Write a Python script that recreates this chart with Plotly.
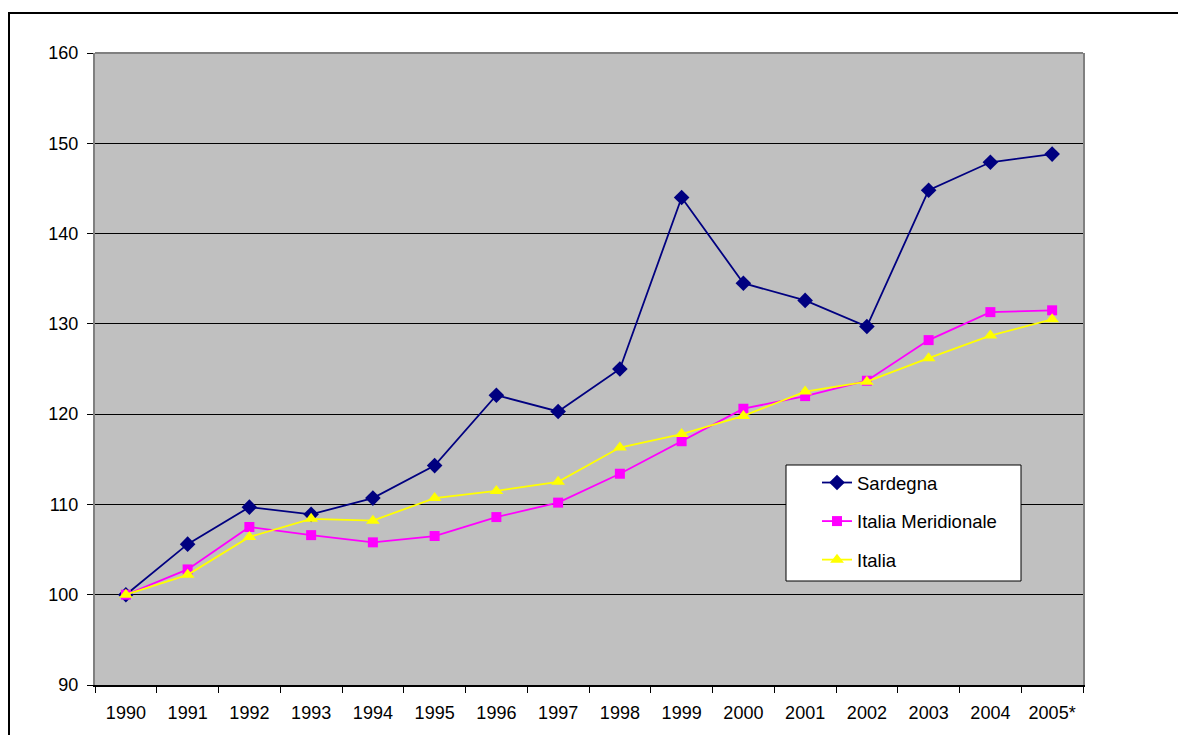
import plotly.graph_objects as go

years = ["1990", "1991", "1992", "1993", "1994", "1995", "1996", "1997",
         "1998", "1999", "2000", "2001", "2002", "2003", "2004", "2005*"]
sardegna = [100.0, 105.6, 109.7, 108.9, 110.7, 114.3, 122.1, 120.3,
            125.0, 144.0, 134.5, 132.6, 129.7, 144.8, 147.9, 148.8]
meridionale = [100.0, 102.8, 107.5, 106.6, 105.8, 106.5, 108.6, 110.2,
               113.4, 117.0, 120.6, 122.0, 123.7, 128.2, 131.3, 131.5]
italia = [100.0, 102.2, 106.4, 108.4, 108.2, 110.7, 111.5, 112.5,
          116.3, 117.8, 119.8, 122.5, 123.6, 126.2, 128.7, 130.5]
y_ticks = [90, 100, 110, 120, 130, 140, 150, 160]

FONT = "Liberation Sans, Arial, sans-serif"

fig = go.Figure()
fig.add_trace(go.Scatter(x=years, y=sardegna, name="Sardegna", mode="lines+markers",
                         line=dict(color="#000080", width=1.8),
                         marker=dict(symbol="diamond", size=12, color="#000080"),
                         legendgroup="a"))
fig.add_trace(go.Scatter(x=years, y=meridionale, name="Italia Meridionale", mode="lines+markers",
                         line=dict(color="#FF00FF", width=1.8),
                         marker=dict(symbol="square", size=10, color="#FF00FF"),
                         legendgroup="b"))
fig.add_trace(go.Scatter(x=years, y=italia, name="Italia", mode="lines+markers",
                         line=dict(color="#FFFF00", width=1.8),
                         marker=dict(symbol="triangle-up", size=12, color="#FFFF00"),
                         legendgroup="c"))

# page body has an 8px margin; work in screenshot coordinates and shift
OFF = 8
W, H = 1186 - OFF, 735 - OFF
X0, X1, Y0, Y1 = 95, 1083, 53, 685  # plot area in screenshot px
L, R, T, B = X0 - OFF, W - (X1 - OFF), Y0 - OFF, H - (Y1 - OFF)
pw, ph = X1 - X0, Y1 - Y0

def px(x):
    return (x - X0) / pw

def py(y):
    return 1 - (y - Y0) / ph

fig.update_layout(
    width=W, height=H,
    margin=dict(l=L, r=R, t=T, b=B),
    paper_bgcolor="white",
    plot_bgcolor="#C0C0C0",
    font=dict(family=FONT, size=18, color="black"),
    showlegend=True,
    legend=dict(x=px(817), y=py(464), xanchor="left", yanchor="top",
                bgcolor="rgba(0,0,0,0)", borderwidth=0,
                font=dict(family=FONT, size=18.5, color="black"),
                traceorder="grouped", tracegroupgap=11.5),
    xaxis=dict(type="category", categoryorder="array", categoryarray=years,
               range=[-0.5, len(years) - 0.5],
               showgrid=False, showline=True, linecolor="black", linewidth=1.5,
               ticks="outside", tickson="boundaries", ticklen=6, tickcolor="black",
               tickfont=dict(family=FONT, size=18), ticklabelstandoff=11,
               zeroline=False, fixedrange=True),
    yaxis=dict(range=[90, 160], tickvals=y_ticks, showgrid=True, gridcolor="black",
               gridwidth=1, showline=True, linecolor="#808080", linewidth=2,
               mirror=True, ticks="outside", ticklen=6, tickcolor="black",
               tickfont=dict(family=FONT, size=18), ticklabelstandoff=5,
               zeroline=False, fixedrange=True),
    shapes=[
        dict(type="line", xref="paper", yref="paper", x0=0, x1=1, y0=1, y1=1,
             line=dict(color="#808080", width=2)),
        dict(type="rect", xref="paper", yref="paper",
             x0=px(786), x1=px(1021), y0=py(581), y1=py(465),
             fillcolor="white", line=dict(color="black", width=1), layer="above"),
        dict(type="rect", xref="paper", yref="paper",
             x0=px(OFF + 1), x1=px(1250), y0=py(800), y1=py(13),
             fillcolor="rgba(0,0,0,0)", line=dict(color="black", width=2)),
    ],
)

fig.write_html("out.html")
